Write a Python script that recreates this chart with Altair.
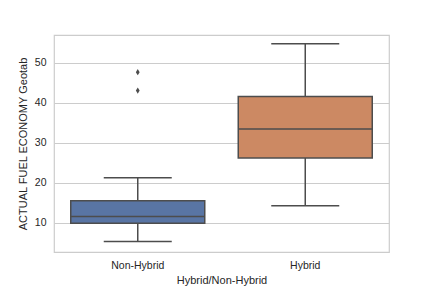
import altair as alt
import pandas as pd

categories = ["Non-Hybrid", "Hybrid"]
whisker_low = [5.3, 14.3]
q1 = [9.9, 26.2]
median = [11.6, 33.5]
q3 = [15.5, 41.6]
whisker_high = [21.3, 54.8]
colors = ["#5975a4", "#cc8963"]

outlier_cat = ["Non-Hybrid", "Non-Hybrid"]
outlier_val = [47.7, 43.1]

stats = pd.DataFrame({
    "cat": categories, "lo": whisker_low, "q1": q1, "med": median,
    "q3": q3, "hi": whisker_high, "color": colors,
})
outs = pd.DataFrame({"cat": outlier_cat, "val": outlier_val})

line_col = "#4d4d4d"
font = "Liberation Sans"

x_enc = alt.X("cat:N", sort=categories, title="Hybrid/Non-Hybrid",
              scale=alt.Scale(paddingInner=0, paddingOuter=0),
              axis=alt.Axis(labelAngle=0, ticks=False, domain=False, grid=False,
                            labelPadding=8, titlePadding=4, labelFontSize=10.5,
                            titleFontSize=11, labelColor="#262626",
                            titleColor="#262626", labelFont=font, titleFont=font,
                            titleFontWeight="normal"))
y_scale = alt.Scale(domain=[2.7, 57], nice=False, zero=False)
y_axis = alt.Axis(values=[10, 20, 30, 40, 50], ticks=False, domain=False,
                  gridColor="#cccccc", gridWidth=1, labelPadding=8, titlePadding=6,
                  labelFontSize=10.5, titleFontSize=11, labelColor="#262626",
                  titleColor="#262626", labelFont=font, titleFont=font,
                  titleFontWeight="normal")

base = alt.Chart(stats)

whisk_lo = base.mark_rule(color=line_col, strokeWidth=1.5).encode(
    x=x_enc,
    y=alt.Y("lo:Q", scale=y_scale, axis=y_axis, title="ACTUAL FUEL ECONOMY Geotab"),
    y2="q1:Q")
whisk_hi = base.mark_rule(color=line_col, strokeWidth=1.5).encode(
    x=alt.X("cat:N", sort=categories), y=alt.Y("q3:Q"), y2="hi:Q")
box = base.mark_bar(size=134, stroke=line_col, strokeWidth=1.5).encode(
    x=alt.X("cat:N", sort=categories), y=alt.Y("q1:Q"), y2="q3:Q",
    color=alt.Color("color:N", scale=None))
med = base.mark_tick(size=134, thickness=1.5, color=line_col, opacity=1).encode(
    x=alt.X("cat:N", sort=categories), y=alt.Y("med:Q"))
cap_lo = base.mark_tick(size=68, thickness=1.5, color=line_col, opacity=1).encode(
    x=alt.X("cat:N", sort=categories), y=alt.Y("lo:Q"))
cap_hi = base.mark_tick(size=68, thickness=1.5, color=line_col, opacity=1).encode(
    x=alt.X("cat:N", sort=categories), y=alt.Y("hi:Q"))
pts = alt.Chart(outs).mark_point(shape="M0,-1L0.6,0L0,1L-0.6,0Z", filled=True,
                                  color=line_col, size=40, opacity=1).encode(
    x=alt.X("cat:N", sort=categories), y=alt.Y("val:Q"))

chart = alt.layer(whisk_lo, whisk_hi, box, med, cap_lo, cap_hi, pts).properties(
    width=335, height=217,
    autosize=alt.AutoSizeParams(type="none"),
    padding={"left": 54, "top": 35, "right": 43, "bottom": 36},
    background="white",
).configure_view(stroke="#cccccc", strokeWidth=1.2)

chart.save("out.html", embed_options={"renderer": "svg", "actions": False})
